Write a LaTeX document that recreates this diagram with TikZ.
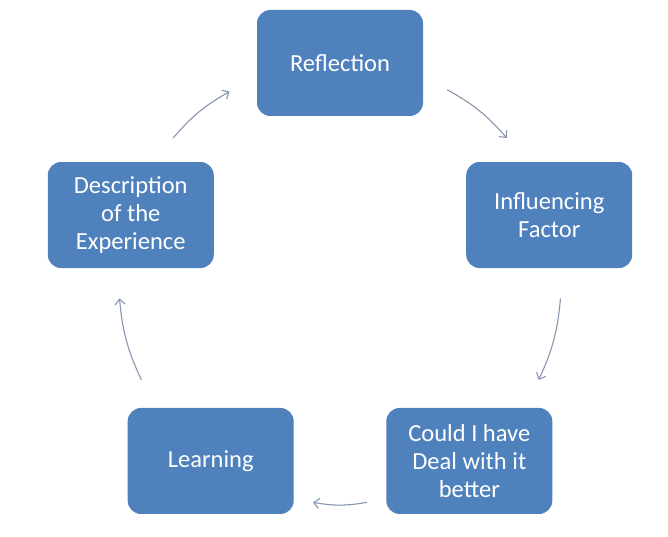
\documentclass[tikz,border=0pt]{standalone}
\usepackage{fontspec}
\setmainfont{Carlito}
\usetikzlibrary{arrows.meta}
\definecolor{Box}{HTML}{4F81BD}
\definecolor{Link}{HTML}{8494AC}

\begin{document}
\begin{tikzpicture}[x=0.75pt,y=0.75pt,
  cycbox/.style={fill=Box,rounded corners=10pt,minimum width=124.5pt,minimum height=79.5pt,
    inner sep=0pt,text=white,align=center,font=\fontsize{18.4}{21}\selectfont},
  cyc/.style={Link,line width=0.8pt,-{Straight Barb[length=4pt,width=7.5pt]}}]
  \fill[white] (0,0) rectangle (668,536);
  \useasboundingbox (0,0) rectangle (668,536);
  \coordinate (ctr) at (340,253);
  \node[cycbox] (refl) at ([shift={(90:220)}]ctr) {Reflection};
  \node[cycbox] (infl) at ([shift={(18:220)}]ctr) {Influencing\\Factor};
  \node[cycbox] (could) at ([shift={(-54:220)}]ctr) {Could I have\\Deal with it\\better};
  \node[cycbox] (learn) at ([shift={(-126:220)}]ctr) {Learning};
  \node[cycbox] (descr) at ([shift={(162:220)}]ctr) {Description\\of the\\Experience};
  \foreach \sa/\ea [count=\i] in {61/41,-4/-26,-83/-97,206/184,139/120} {
    \coordinate (s\i) at ([shift={(\sa:221)}]ctr);
    \coordinate (e\i) at ([shift={(\ea:221)}]ctr);
    \draw[cyc] (s\i) to[bend left=10] (e\i);
  }
\end{tikzpicture}
\end{document}
